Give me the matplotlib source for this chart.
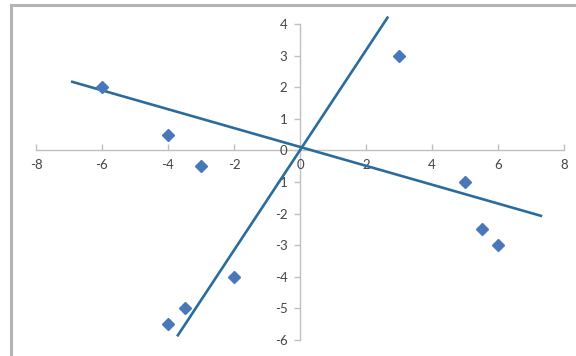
import matplotlib.pyplot as plt
from matplotlib.patches import Rectangle

plt.rcParams['axes.unicode_minus'] = False

# data points
x_pts = [-6, -4, -3, -2, -3.5, -4, 3, 5, 5.5, 6]
y_pts = [2, 0.5, -0.5, -4, -5, -5.5, 3, -1, -2.5, -3]

# two fitted lines (end points)
line1_x = [-6.9, 7.3]
line1_y = [2.17, -2.07]
line2_x = [-3.7, 2.65]
line2_y = [-5.85, 4.2]

xticks = [-8, -6, -4, -2, 0, 2, 4, 6, 8]
yticks = [-6, -5, -4, -3, -2, -1, 0, 1, 2, 3, 4]

fig = plt.figure(figsize=(5.76, 3.56), dpi=100)
ax = fig.add_axes([36 / 576, 1 - 340 / 356, 528 / 576, 316 / 356])

# outer chart border
fig.patches.append(Rectangle((11 / 576, -0.1), 1.2, 1 - 5 / 356 + 0.1,
                             transform=fig.transFigure, fill=False,
                             edgecolor='#b4b4b4', linewidth=2.2))

ax.plot(line1_x, line1_y, color='#2a6c9c', linewidth=1.9, zorder=3, clip_on=False)
ax.plot(line2_x, line2_y, color='#2a6c9c', linewidth=1.9, zorder=3, clip_on=False)
ax.plot(x_pts, y_pts, linestyle='none', marker='D', markersize=6.5,
        color='#4a77b8', zorder=4)

ax.set_xlim(-8, 8)
ax.set_ylim(-6, 4)
ax.set_xticks(xticks)
ax.set_yticks(yticks)

for s in ['top', 'right']:
    ax.spines[s].set_visible(False)
ax.spines['left'].set_position(('data', 0))
ax.spines['bottom'].set_position(('data', 0))
for s in ['left', 'bottom']:
    ax.spines[s].set_color('#c0c0c0')
    ax.spines[s].set_linewidth(1.0)
ax.spines['left'].set_zorder(1)
ax.spines['bottom'].set_zorder(1)

ax.tick_params(axis='x', direction='in', length=4, width=1, color='#c0c0c0',
               pad=6, labelsize=9.5, labelcolor='#444444')
ax.tick_params(axis='y', direction='out', length=4, width=1, color='#c0c0c0',
               pad=5, labelsize=9.5, labelcolor='#444444')
for lbl in ax.get_xticklabels() + ax.get_yticklabels():
    lbl.set_fontfamily('Lato')

ax.patch.set_alpha(0)
fig.savefig('out.png', dpi=100)
